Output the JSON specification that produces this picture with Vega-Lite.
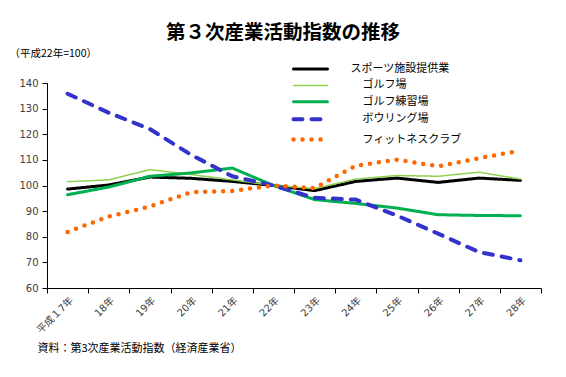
{
  "$schema": "https://vega.github.io/schema/vega-lite/v6.json",
  "width": 494,
  "height": 205,
  "autosize": "none",
  "padding": {"left": 47, "top": 83, "right": 25, "bottom": 89},
  "background": "white",
  "config": {
    "font": "DejaVu Sans, Noto Sans CJK JP",
    "view": {"stroke": null}
  },
  "title": {
    "text": "第３次産業活動指数の推移",
    "font": "Noto Sans CJK JP",
    "fontSize": 19.5,
    "fontWeight": "bold",
    "color": "black",
    "anchor": "middle",
    "frame": "group",
    "dx": -11,
    "offset": 5
  },
  "data": {
    "values": [
      {"year": "平成１7年", "スポーツ施設提供業": 98.6, "ゴルフ場": 101.5, "ゴルフ練習場": 96.4, "ボウリング場": 135.8, "フィットネスクラブ": 81.9},
      {"year": "18年", "スポーツ施設提供業": 100.2, "ゴルフ場": 102.2, "ゴルフ練習場": 99.4, "ボウリング場": 128.4, "フィットネスクラブ": 87.9},
      {"year": "19年", "スポーツ施設提供業": 103.3, "ゴルフ場": 106.2, "ゴルフ練習場": 103.6, "ボウリング場": 122.0, "フィットネスクラブ": 91.8},
      {"year": "20年", "スポーツ施設提供業": 102.8, "ゴルフ場": 104.3, "ゴルフ練習場": 104.9, "ボウリング場": 112.0, "フィットネスクラブ": 97.4},
      {"year": "21年", "スポーツ施設提供業": 101.6, "ゴルフ場": 102.2, "ゴルフ練習場": 106.8, "ボウリング場": 103.6, "フィットネスクラブ": 97.9},
      {"year": "22年", "スポーツ施設提供業": 100.0, "ゴルフ場": 100.0, "ゴルフ練習場": 100.0, "ボウリング場": 100.0, "フィットネスクラブ": 100.0},
      {"year": "23年", "スポーツ施設提供業": 98.0, "ゴルフ場": 98.8, "ゴルフ練習場": 94.5, "ボウリング場": 95.2, "フィットネスクラブ": 99.0},
      {"year": "24年", "スポーツ施設提供業": 101.6, "ゴルフ場": 102.5, "ゴルフ練習場": 93.0, "ボウリング場": 94.5, "フィットネスクラブ": 107.7},
      {"year": "25年", "スポーツ施設提供業": 102.9, "ゴルフ場": 103.9, "ゴルフ練習場": 91.2, "ボウリング場": 88.3, "フィットネスクラブ": 110.1},
      {"year": "26年", "スポーツ施設提供業": 101.2, "ゴルフ場": 103.6, "ゴルフ練習場": 88.6, "ボウリング場": 81.2, "フィットネスクラブ": 107.5},
      {"year": "27年", "スポーツ施設提供業": 102.9, "ゴルフ場": 105.2, "ゴルフ練習場": 88.3, "ボウリング場": 74.0, "フィットネスクラブ": 110.7},
      {"year": "28年", "スポーツ施設提供業": 102.0, "ゴルフ場": 102.5, "ゴルフ練習場": 88.2, "ボウリング場": 70.8, "フィットネスクラブ": 113.6}
    ]
  },
  "transform": [
    {"fold": ["スポーツ施設提供業", "ゴルフ場", "ゴルフ練習場", "ボウリング場", "フィットネスクラブ"], "as": ["series", "value"]}
  ],
  "mark": {"type": "line", "strokeCap": "round", "strokeJoin": "round"},
  "encoding": {
    "x": {
      "field": "year",
      "type": "ordinal",
      "sort": null,
      "bandPosition": 0.5,
      "scale": {"type": "band", "paddingInner": 0, "paddingOuter": 0},
      "axis": {
        "tickBand": "extent",
        "labelAngle": -45,
        "labelFontSize": 10,
        "labelColor": "#404040",
        "labelPadding": 2,
        "tickSize": 5,
        "tickColor": "#000000",
        "domainColor": "#000000",
        "grid": false,
        "title": "資料：第3次産業活動指数（経済産業省）",
        "titleFont": "Noto Sans CJK JP",
        "titleFontSize": 11,
        "titleFontWeight": "normal",
        "titleColor": "#000000",
        "titleAlign": "left",
        "titleBaseline": "middle",
        "titleAnchor": "start",
        "titleX": -10,
        "titleY": 60
      }
    },
    "y": {
      "field": "value",
      "type": "quantitative",
      "scale": {"domain": [60, 140]},
      "axis": {
        "values": [60, 70, 80, 90, 100, 110, 120, 130, 140],
        "grid": false,
        "labelFontSize": 10,
        "labelColor": "#404040",
        "labelPadding": 4,
        "tickSize": 5,
        "tickColor": "#000000",
        "domainColor": "#000000",
        "title": "（平成22年=100）",
        "titleFont": "Noto Sans CJK JP",
        "titleFontSize": 10.5,
        "titleFontWeight": "normal",
        "titleColor": "#000000",
        "titleAngle": 0,
        "titleAlign": "left",
        "titleBaseline": "middle",
        "titleX": -38,
        "titleY": -30
      }
    },
    "color": {
      "field": "series",
      "type": "nominal",
      "sort": ["スポーツ施設提供業", "ゴルフ場", "ゴルフ練習場", "ボウリング場", "フィットネスクラブ"],
      "scale": {
        "domain": ["スポーツ施設提供業", "ゴルフ場", "ゴルフ練習場", "ボウリング場", "フィットネスクラブ"],
        "range": ["#000000", "#92D050", "#00B050", "#3333CC", "#FF6600"]
      },
      "legend": {
        "orient": "none",
        "legendX": 252.5,
        "legendY": -24,
        "title": null,
        "symbolType": "M-2,0H2",
        "symbolSize": 289,
        "labelFont": "Noto Sans CJK JP",
        "labelFontSize": 11,
        "labelColor": "#000000",
        "labelOffset": 29,
        "rowPadding": 0.9,
        "encoding": {
          "symbols": {"strokeCap": {"value": "round"}},
          "labels": {"dx": {"value": {"signal": "datum.value === 'スポーツ施設提供業' ? 0 : 12"}}}
        }
      }
    },
    "strokeDash": {
      "field": "series",
      "type": "nominal",
      "scale": {
        "domain": ["スポーツ施設提供業", "ゴルフ場", "ゴルフ練習場", "ボウリング場", "フィットネスクラブ"],
        "range": [[1, 0], [1, 0], [1, 0], [9, 9], [0, 9]]
      },
      "legend": null
    },
    "strokeWidth": {
      "field": "series",
      "type": "nominal",
      "scale": {
        "type": "ordinal",
        "domain": ["スポーツ施設提供業", "ゴルフ場", "ゴルフ練習場", "ボウリング場", "フィットネスクラブ"],
        "range": [3, 1.5, 3, 4, 4.5]
      },
      "legend": null
    }
  }
}
